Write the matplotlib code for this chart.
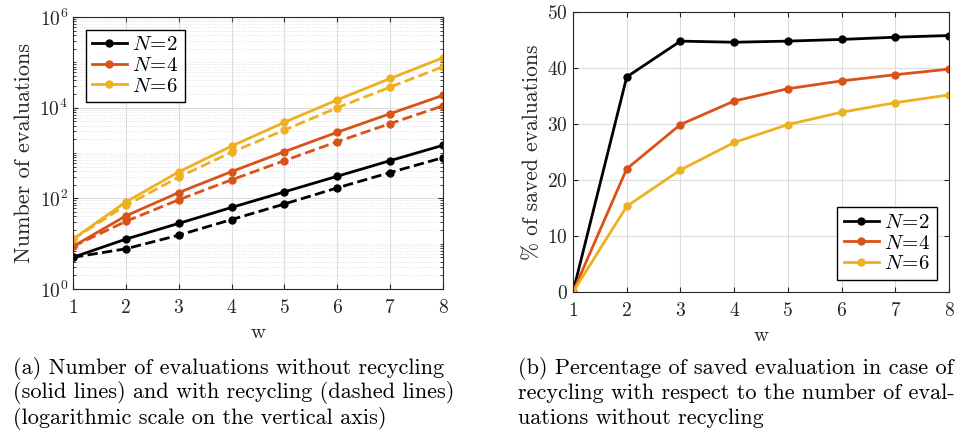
import numpy as np
import matplotlib
matplotlib.use("Agg")
from matplotlib import pyplot as plt
from matplotlib.ticker import LogLocator, FixedLocator, NullFormatter

plt.rcParams['font.family'] = 'serif'
plt.rcParams['font.serif'] = ['cmr10', 'DejaVu Serif']
plt.rcParams['mathtext.fontset'] = 'cm'
plt.rcParams['axes.formatter.use_mathtext'] = True

w = [1, 2, 3, 4, 5, 6, 7, 8]
labels = ['N=2', 'N=4', 'N=6']
colors = ['#000000', '#D95319', '#EDB120']

# number of evaluations without recycling (solid)
ev_n2 = [5, 12.6, 28, 63, 139, 307, 678, 1480]
ev_n4 = [8.7, 41, 134, 389, 1070, 2870, 7370, 18700]
ev_n6 = [12.6, 83, 383, 1420, 4760, 14900, 44000, 126000]
# with recycling (dashed)
rec_n2 = [5, 7.7, 15.4, 34, 75, 170, 371, 790]
rec_n4 = [8.7, 31, 93, 256, 678, 1780, 4450, 11000]
rec_n6 = [12.6, 70, 293, 1040, 3200, 10000, 28400, 80000]
# percentage of saved evaluations
pct_n2 = [0, 38.4, 44.8, 44.6, 44.8, 45.1, 45.5, 45.8]
pct_n4 = [0, 22.0, 29.9, 34.1, 36.3, 37.7, 38.8, 39.8]
pct_n6 = [0, 15.3, 21.8, 26.7, 29.9, 32.1, 33.8, 35.2]

solid = [ev_n2, ev_n4, ev_n6]
dashed = [rec_n2, rec_n4, rec_n6]
pcts = [pct_n2, pct_n4, pct_n6]
txtc = '#262626'

fig = plt.figure(figsize=(9.55, 4.32), dpi=100)
ax1 = fig.add_axes([73/955, 1-289/432, 370/955, 272/432])
ax2 = fig.add_axes([573/955, 1-292/432, 376/955, 280/432])

def lab(s):
    return '$' + s.replace('=', '\\!=\\!') + '$'

for i in range(3):
    ax1.plot(w, solid[i], '-o', color=colors[i], lw=2, ms=5, label=lab(labels[i]))
for i in range(3):
    ax1.plot(w, dashed[i], '--o', color=colors[i], lw=2, ms=5)
ax1.set_yscale('log')
ax1.set_ylim(1, 1e6)
ax1.set_xlim(1, 8)
ax1.yaxis.set_major_locator(FixedLocator([1, 1e2, 1e4, 1e6]))
ax1.yaxis.set_minor_locator(LogLocator(base=10, subs=np.arange(1, 10), numticks=20))
ax1.yaxis.set_minor_formatter(NullFormatter())
ax1.grid(True, which='major', color='#dcdcdc', lw=0.8)
ax1.grid(True, which='minor', axis='y', color='#dcdcdc', lw=0.6, ls=':')
ax1.set_ylabel('Number of evaluations', fontsize=16, color=txtc)
ax1.set_xlabel('w', fontsize=15, color=txtc, labelpad=5)
ax1.legend(loc='upper left', fontsize=15, edgecolor='black', fancybox=False, framealpha=1,
           handlelength=1.7, handletextpad=0.25, borderpad=0.3, labelspacing=0.1,
           borderaxespad=0.6)

for i in range(3):
    ax2.plot(w, pcts[i], '-o', color=colors[i], lw=2, ms=5, label=lab(labels[i]))
ax2.set_xlim(1, 8)
ax2.set_ylim(0, 50)
ax2.set_yticks([0, 10, 20, 30, 40, 50])
ax2.grid(True, color='#dcdcdc', lw=0.8)
ax2.set_ylabel('% of saved evaluations', fontsize=15.5, color=txtc)
ax2.set_xlabel('w', fontsize=15, color=txtc, labelpad=5)
ax2.legend(loc='lower right', fontsize=15, edgecolor='black', fancybox=False, framealpha=1,
           handlelength=1.7, handletextpad=0.25, borderpad=0.3, labelspacing=0.1,
           borderaxespad=0.6)

for ax in [ax1, ax2]:
    ax.set_xticks(w)
    ax.tick_params(which='both', direction='in', top=True, right=True, labelsize=14,
                   colors=txtc, labelcolor=txtc)
    ax.tick_params(axis='x', pad=7)
    ax.set_axisbelow(True)
    for s in ax.spines.values():
        s.set_linewidth(0.8)
        s.set_color(txtc)

cap_a = ['(a) Number of evaluations without recycling',
         '(solid lines) and with recycling (dashed lines)',
         '(logarithmic scale on the vertical axis)']
cap_b = ['(b) Percentage of saved evaluation in case of',
         'recycling with respect to the number of eval-',
         'uations without recycling']
for k in range(3):
    fig.text(13/955, 1-(368+25*k)/432, cap_a[k], fontsize=16, va='center', ha='left')
    fig.text(518/955, 1-(368+25*k)/432, cap_b[k], fontsize=16, va='center', ha='left')

fig.savefig('out.png', dpi=100)
